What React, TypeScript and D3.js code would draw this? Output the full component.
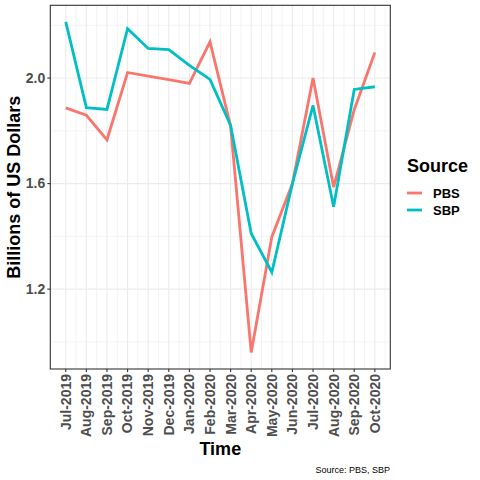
import React from "react";
import * as d3 from "d3";

// Monthly remittance series (billions USD)
const MONTHS = [
  "Jul-2019", "Aug-2019", "Sep-2019", "Oct-2019", "Nov-2019", "Dec-2019",
  "Jan-2020", "Feb-2020", "Mar-2020", "Apr-2020", "May-2020", "Jun-2020",
  "Jul-2020", "Aug-2020", "Sep-2020", "Oct-2020",
];
const PBS = [1.887, 1.859, 1.766, 2.021, 2.007, 1.994, 1.98, 2.137, 1.818, 0.96, 1.398, 1.6, 2.0, 1.587, 1.88, 2.097];
const SBP = [2.213, 1.888, 1.881, 2.187, 2.112, 2.108, 2.048, 1.995, 1.82, 1.411, 1.264, 1.6, 1.896, 1.512, 1.957, 1.967];
const SERIES = [
  { name: "PBS", values: PBS, color: "#F8766D" },
  { name: "SBP", values: SBP, color: "#00BFC4" },
];
const Y_MAJOR = [1.2, 1.6, 2.0];
const Y_MINOR = [1.0, 1.4, 1.8, 2.2];

const W = 480;
const H = 480;
const panel = { left: 50.3, right: 390.3, top: 5.3, bottom: 369 };
const FONT = "'Liberation Sans', Arial, sans-serif";

export default function App() {
  const n = MONTHS.length;
  const pad = (n - 1) * 0.05;
  const x = d3
    .scaleLinear()
    .domain([-pad, n - 1 + pad])
    .range([panel.left, panel.right]);

  const all = [...PBS, ...SBP];
  const yMin = d3.min(all)!;
  const yMax = d3.max(all)!;
  const yPad = (yMax - yMin) * 0.05;
  const y = d3
    .scaleLinear()
    .domain([yMin - yPad, yMax + yPad])
    .range([panel.bottom, panel.top]);

  const line = d3
    .line<number>()
    .x((_, i) => x(i))
    .y((d) => y(d));

  const xMinor = d3.range(0.5, n, 1);

  return (
    <svg
      width={W}
      height={H}
      style={{ position: "absolute", left: 0, top: 0, background: "#fff" }}
      fontFamily={FONT}
    >
      <rect x={0} y={0} width={W} height={H} fill="#fff" />

      {/* grid */}
      <g>
        {Y_MINOR.map((v) => (
          <line key={"ym" + v} x1={panel.left} x2={panel.right} y1={y(v)} y2={y(v)} stroke="#EBEBEB" strokeWidth={0.6} />
        ))}
        {xMinor.map((v) => (
          <line key={"xm" + v} x1={x(v)} x2={x(v)} y1={panel.top} y2={panel.bottom} stroke="#EBEBEB" strokeWidth={0.6} />
        ))}
        {Y_MAJOR.map((v) => (
          <line key={"yM" + v} x1={panel.left} x2={panel.right} y1={y(v)} y2={y(v)} stroke="#EBEBEB" strokeWidth={1.1} />
        ))}
        {MONTHS.map((m, i) => (
          <line key={"xM" + m} x1={x(i)} x2={x(i)} y1={panel.top} y2={panel.bottom} stroke="#EBEBEB" strokeWidth={1.1} />
        ))}
      </g>

      {/* lines */}
      {SERIES.map((s) => (
        <path
          key={s.name}
          d={line(s.values) || ""}
          fill="none"
          stroke={s.color}
          strokeWidth={2.8}
          strokeLinejoin="miter"
        />
      ))}

      {/* panel border */}
      <rect
        x={panel.left}
        y={panel.top}
        width={panel.right - panel.left}
        height={panel.bottom - panel.top}
        fill="none"
        stroke="#333333"
        strokeWidth={1.1}
      />

      {/* y axis */}
      {Y_MAJOR.map((v) => (
        <g key={"yt" + v}>
          <line x1={panel.left - 3} x2={panel.left} y1={y(v)} y2={y(v)} stroke="#333333" strokeWidth={1.1} />
          <text
            x={panel.left - 5}
            y={y(v)}
            dy="0.35em"
            textAnchor="end"
            fontSize={14}
            fontWeight="bold"
            fill="#4D4D4D"
          >
            {v.toFixed(1)}
          </text>
        </g>
      ))}

      {/* x axis */}
      {MONTHS.map((m, i) => (
        <g key={"xt" + m}>
          <line x1={x(i)} x2={x(i)} y1={panel.bottom} y2={panel.bottom + 3} stroke="#333333" strokeWidth={1.1} />
          <text
            transform={`translate(${x(i)},${panel.bottom + 5}) rotate(-90)`}
            dy="0.35em"
            textAnchor="end"
            fontSize={14}
            fontWeight="bold"
            fill="#4D4D4D"
          >
            {m}
          </text>
        </g>
      ))}

      {/* axis titles */}
      <text
        x={(panel.left + panel.right) / 2}
        y={455}
        textAnchor="middle"
        fontSize={18}
        fontWeight="bold"
        fill="#000"
      >
        Time
      </text>
      <text
        transform={`translate(20,${(panel.top + panel.bottom) / 2}) rotate(-90)`}
        textAnchor="middle"
        fontSize={18}
        fontWeight="bold"
        fill="#000"
      >
        Billions of US Dollars
      </text>

      {/* legend */}
      <text x={407} y={172} fontSize={18} fontWeight="bold" fill="#000">
        Source
      </text>
      {SERIES.map((s, i) => (
        <g key={"lg" + s.name} transform={`translate(407,${193 + i * 17})`}>
          <line x1={0} x2={15} y1={0} y2={0} stroke={s.color} strokeWidth={2.8} />
          <text x={26} y={0} dy="0.35em" fontSize={13} fontWeight="bold" fill="#000">
            {s.name}
          </text>
        </g>
      ))}

      {/* caption */}
      <text x={390} y={473} textAnchor="end" fontSize={9} fill="#000">
        Source: PBS, SBP
      </text>
    </svg>
  );
}
